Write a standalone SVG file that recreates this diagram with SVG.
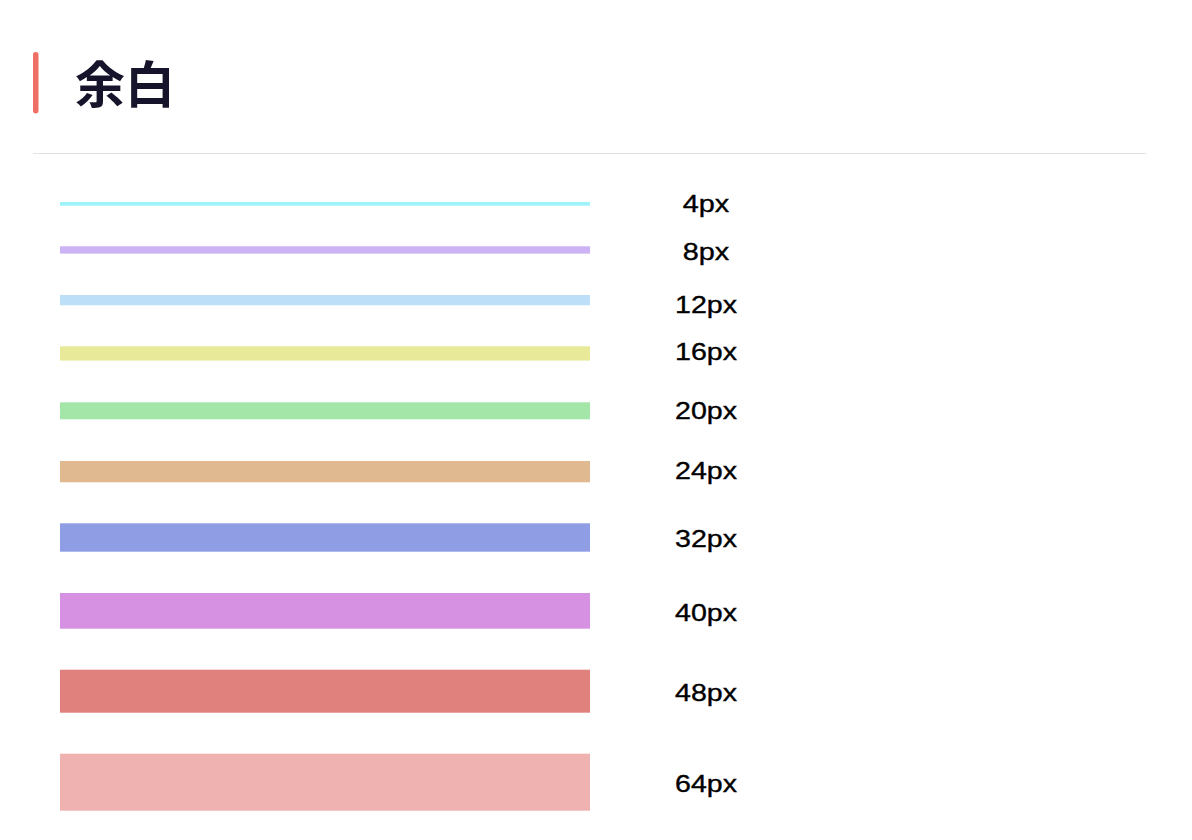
<svg xmlns="http://www.w3.org/2000/svg" width="1192" height="840" viewBox="0 0 1192 840">
<style>
.lbl{font-family:"Liberation Sans",Arial,sans-serif;font-size:24px;fill:#000;stroke:#000;stroke-width:0.35px;text-anchor:middle}
.title{font-family:"Noto Sans CJK JP","Noto Sans CJK SC",sans-serif;font-size:50px;font-weight:700;fill:#16142a}
</style>
<rect width="1192" height="840" fill="#fff"/>
<g id="header">
<rect x="33" y="52" width="5.5" height="61.5" rx="2.7" fill="#ee6f65"/>
<text class="title" x="75" y="103">余白</text>
<line x1="33" y1="153.5" x2="1146" y2="153.5" stroke="#e2e2e2" stroke-width="1.2"/>
</g>
<g id="s4"><rect x="60" y="202" width="530" height="3.7" fill="#9ff2f9"/><text class="lbl" x="706" y="212" textLength="46.5" lengthAdjust="spacingAndGlyphs">4px</text></g>
<g id="s8"><rect x="60" y="246.3" width="530" height="7.3" fill="#cbb3f4"/><text class="lbl" x="706" y="260" textLength="46.5" lengthAdjust="spacingAndGlyphs">8px</text></g>
<g id="s12"><rect x="60" y="295" width="530" height="10.3" fill="#bde0f8"/><text class="lbl" x="706" y="312.5" textLength="62" lengthAdjust="spacingAndGlyphs">12px</text></g>
<g id="s16"><rect x="60" y="346.3" width="530" height="14.3" fill="#e8ea99"/><text class="lbl" x="706" y="360" textLength="62" lengthAdjust="spacingAndGlyphs">16px</text></g>
<g id="s20"><rect x="60" y="402.3" width="530" height="17" fill="#a3e6a7"/><text class="lbl" x="706" y="419.3" textLength="62" lengthAdjust="spacingAndGlyphs">20px</text></g>
<g id="s24"><rect x="60" y="461" width="530" height="21.3" fill="#e1b990"/><text class="lbl" x="706" y="479" textLength="62" lengthAdjust="spacingAndGlyphs">24px</text></g>
<g id="s32"><rect x="60" y="523.3" width="530" height="28.4" fill="#8f9de4"/><text class="lbl" x="706" y="547.3" textLength="62" lengthAdjust="spacingAndGlyphs">32px</text></g>
<g id="s40"><rect x="60" y="593" width="530" height="35.7" fill="#d691e3"/><text class="lbl" x="706" y="620.7" textLength="62" lengthAdjust="spacingAndGlyphs">40px</text></g>
<g id="s48"><rect x="60" y="669.7" width="530" height="43" fill="#e0817e"/><text class="lbl" x="706" y="700.7" textLength="62" lengthAdjust="spacingAndGlyphs">48px</text></g>
<g id="s64"><rect x="60" y="753.7" width="530" height="57" fill="#f0b2b1"/><text class="lbl" x="706" y="792.3" textLength="62" lengthAdjust="spacingAndGlyphs">64px</text></g>
<g id="connectors"/>
</svg>
